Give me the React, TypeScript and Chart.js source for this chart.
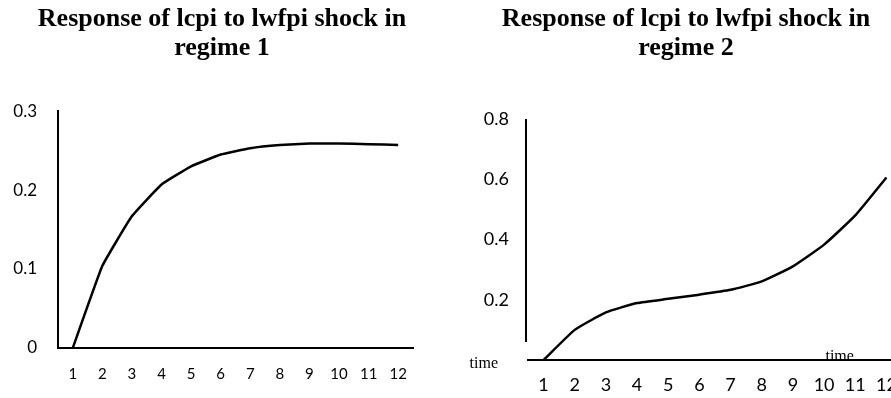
import React, { useEffect, useRef } from "react";
import { Chart, registerables } from "chart.js";

Chart.register(...registerables);

// ---- data ----
const periods = ["1", "2", "3", "4", "5", "6", "7", "8", "9", "10", "11", "12"];
const regime1Response = [0, 0.104, 0.167, 0.207, 0.23, 0.245, 0.253, 0.257, 0.259, 0.259, 0.258, 0.257];
const regime2Response = [0, 0.1, 0.158, 0.189, 0.203, 0.217, 0.233, 0.261, 0.311, 0.383, 0.48, 0.606];
const regime1TickLabels = ["0", "0.1", "0.2", "0.3"];
const regime2TickLabels = ["0.2", "0.4", "0.6", "0.8"];
const title1 = ["Response of lcpi to lwfpi shock in", "regime 1"];
const title2 = ["Response of lcpi to lwfpi shock in", "regime 2"];
const axisWord = "time";
const regime2AxisLineBottom = 0.06;

const SANS = "Lato, 'Noto Sans', sans-serif";
const SERIF = "'Liberation Serif', 'Times New Roman', serif";

function useChart(ref: React.RefObject<HTMLCanvasElement | null>, makeConfig: () => any) {
  useEffect(() => {
    if (!ref.current) return;
    const chart = new Chart(ref.current, makeConfig());
    return () => chart.destroy();
  }, []);
}

// an empty right-hand box that only reserves space (keeps the title centred over the panel)
function spacerAxis(width: number) {
  return {
    type: "linear",
    position: "right",
    display: true,
    min: 0,
    max: 1,
    afterFit: (s: any) => {
      s.width = width;
    },
    grid: { display: false, drawTicks: false },
    border: { display: false },
    ticks: { display: false },
  };
}

function leftConfig() {
  return {
    type: "line",
    data: {
      labels: periods,
      datasets: [
        {
          data: regime1Response,
          borderColor: "#000",
          borderWidth: 2.5,
          pointRadius: 0,
          tension: 0.1,
          fill: false,
        },
      ],
    },
    options: {
      animation: false,
      responsive: false,
      devicePixelRatio: 1,
      layout: { padding: { left: 0, right: 0, top: 0, bottom: 18.8 } },
      plugins: {
        legend: { display: false },
        tooltip: { enabled: false },
        title: {
          display: true,
          text: title1,
          color: "#000",
          font: { family: SERIF, size: 26, weight: "bold", lineHeight: 1.12 },
          padding: { top: 5, bottom: 47.8 },
        },
      },
      scales: {
        x: {
          offset: true,
          grid: { display: false, drawTicks: false },
          border: { display: true, color: "#000", width: 2 },
          ticks: { color: "#000", font: { family: SANS, size: 15 }, padding: 17.6, maxRotation: 0, autoSkip: false },
        },
        y: {
          min: 0,
          max: 0.3,
          afterFit: (s: any) => {
            s.width = 58;
          },
          grid: { display: false, drawTicks: false },
          border: { display: true, color: "#000", width: 2 },
          ticks: {
            stepSize: 0.1,
            color: "#000",
            padding: 21,
            font: { family: SANS, size: 17 },
            callback: (_v: any, i: number) => regime1TickLabels[i],
          },
        },
        spacer: spacerAxis(31),
      },
    },
  };
}

const regime2Decor = {
  id: "regime2Decor",
  afterDraw(chart: any) {
    const { ctx, chartArea, scales } = chart;
    const y = scales.y;
    const x = scales.x;
    ctx.save();
    // partial vertical axis line
    ctx.strokeStyle = "#000";
    ctx.lineWidth = 2;
    ctx.beginPath();
    ctx.moveTo(chartArea.left - 2, y.getPixelForValue(0.8));
    ctx.lineTo(chartArea.left - 2, y.getPixelForValue(regime2AxisLineBottom));
    ctx.stroke();
    // "time" labels
    ctx.fillStyle = "#000";
    ctx.font = "16px " + SERIF;
    ctx.textAlign = "right";
    ctx.textBaseline = "middle";
    ctx.fillText(axisWord, chartArea.left - 30, y.getPixelForValue(0) + 4);
    ctx.textAlign = "center";
    ctx.textBaseline = "alphabetic";
    ctx.fillText(axisWord, x.getPixelForValue(9.5), y.getPixelForValue(0) + 1);
    ctx.restore();
  },
};

function rightConfig() {
  return {
    type: "line",
    data: {
      labels: periods,
      datasets: [
        {
          data: regime2Response,
          borderColor: "#000",
          borderWidth: 2.5,
          pointRadius: 0,
          tension: 0.15,
          fill: false,
        },
      ],
    },
    options: {
      animation: false,
      responsive: false,
      devicePixelRatio: 1,
      layout: { padding: { left: 0, right: 0, top: 0, bottom: 10 } },
      plugins: {
        legend: { display: false },
        tooltip: { enabled: false },
        title: {
          display: true,
          text: title2,
          color: "#000",
          font: { family: SERIF, size: 26, weight: "bold", lineHeight: 1.12 },
          padding: { top: 5, bottom: 55.8 },
        },
      },
      scales: {
        x: {
          offset: true,
          grid: { display: false, drawTicks: false },
          border: { display: true, color: "#000", width: 2 },
          ticks: { color: "#000", font: { family: SANS, size: 18 }, padding: 14.2, maxRotation: 0, autoSkip: false },
        },
        y: {
          min: 0,
          max: 0.8,
          afterFit: (s: any) => {
            s.width = 88;
          },
          grid: { display: false, drawTicks: false },
          border: { display: false },
          ticks: {
            stepSize: 0.2,
            color: "#000",
            padding: 19,
            font: { family: SANS, size: 18 },
            callback: (_v: any, i: number) => (i === 0 ? "" : regime2TickLabels[i - 1]),
          },
        },
        spacer: spacerAxis(30),
      },
    },
    plugins: [regime2Decor],
  };
}

export default function App() {
  const leftRef = useRef<HTMLCanvasElement>(null);
  const rightRef = useRef<HTMLCanvasElement>(null);
  useChart(leftRef, leftConfig);
  useChart(rightRef, rightConfig);
  return (
    <div
      style={{
        position: "fixed",
        left: 0,
        top: 0,
        width: 891,
        height: 398,
        overflow: "hidden",
        background: "#fff",
      }}
    >
      <canvas ref={leftRef} width={444} height={420} style={{ position: "absolute", left: 0, top: 0 }} />
      <canvas ref={rightRef} width={492} height={420} style={{ position: "absolute", left: 440, top: 0 }} />
    </div>
  );
}
